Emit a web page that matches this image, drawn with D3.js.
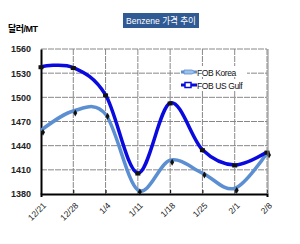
<!DOCTYPE html>
<html><head><meta charset="utf-8">
<script src="https://cdn.jsdelivr.net/npm/d3@7"></script>
<style>body{margin:0;background:#fff;}svg{display:block;}</style>
</head><body>
<svg id="c" width="300" height="244"></svg>
<script>
const categories = ["12/21","12/28","1/4","1/11","1/18","1/25","2/1","2/8"];
const fobKorea = [1459,1483,1479,1385,1422,1406,1387,1431];
const fobUSGulf = [1538,1537,1503,1406,1493,1435,1416,1432];
const yTicks = [1380,1410,1440,1470,1500,1530,1560];
const seriesNames = ["FOB Korea","FOB US Gulf"];
const title = "Benzene 가격 추이";
const unit = "달러/MT";

const svg = d3.select("#c");
const font = "Arial, 'Liberation Sans', 'Noto Sans CJK KR', sans-serif";
const L=41, R=267, T=49, B=194;
const x = d3.scalePoint().domain(categories).range([L,R]);
const y = d3.scaleLinear().domain([1380,1560]).range([B,T]);

// title
const tg = svg.append("g");
tg.append("rect").attr("x",123).attr("y",13).attr("width",76).attr("height",15).attr("fill","#2f5a94");
tg.append("text").attr("x",126).attr("y",24).attr("fill","#fff")
  .attr("font-family",font).attr("font-size",9.5).attr("textLength",70).attr("lengthAdjust","spacingAndGlyphs").text(title);
svg.append("text").attr("x",8).attr("y",32).attr("font-family",font).attr("font-size",9).attr("font-weight","bold")
  .attr("letter-spacing",-0.5).text(unit);

// grid
svg.append("g").selectAll("line").data(yTicks.slice(1)).join("line")
  .attr("x1",L).attr("x2",R).attr("y1",d=>y(d)).attr("y2",d=>y(d))
  .attr("stroke","#888").attr("stroke-width",1).attr("stroke-dasharray","6,1");
svg.append("g").selectAll("line").data(categories.slice(1)).join("line")
  .attr("x1",d=>x(d)).attr("x2",d=>x(d)).attr("y1",T).attr("y2",B)
  .attr("stroke","#888").attr("stroke-width",1).attr("stroke-dasharray","6,1");

// axes
const ya = svg.append("g").attr("transform",`translate(${L},0)`)
  .call(d3.axisLeft(y).tickValues(yTicks).tickFormat(d3.format("d")).tickSize(0).tickPadding(10));
ya.select(".domain").attr("stroke","#000").attr("stroke-width",2);
ya.selectAll("text").attr("font-family",font).attr("font-size",9).attr("font-weight","bold").attr("fill","#222");
const xa = svg.append("g").attr("transform",`translate(0,${B})`)
  .call(d3.axisBottom(x).tickSize(3).tickPadding(4));
xa.select(".domain").attr("stroke","#000").attr("stroke-width",2);
xa.selectAll(".tick line").attr("stroke","#000").attr("transform","translate(0,-4)");
xa.selectAll("text").attr("font-family",font).attr("font-size",8.5).attr("fill","#222")
  .attr("text-anchor","end").attr("transform","translate(3,10) rotate(-45)").attr("dx",0).attr("dy","0.35em").attr("y",0);

const line = d3.line().x((d,i)=>x(categories[i])).y(d=>y(d)).curve(d3.curveCardinal.tension(0));

// Korea
svg.append("path").datum(fobKorea).attr("d",line).attr("fill","none").attr("stroke","#5b8fd2").attr("stroke-width",3.5);
svg.append("g").selectAll("path").data(fobKorea).join("path")
  .attr("d",d3.symbol(d3.symbolDiamond,14))
  .attr("transform",(d,i)=>`translate(${x(categories[i])+2},${y(d)+2})`).attr("fill","#111");

// US Gulf
svg.append("path").datum(fobUSGulf).attr("d",line).attr("fill","none").attr("stroke","#0a0ade").attr("stroke-width",3.5);
svg.append("g").selectAll("rect").data(fobUSGulf).join("rect")
  .attr("x",(d,i)=>x(categories[i])-2.5).attr("y",d=>y(d)-1.5).attr("width",5).attr("height",4).attr("fill","#111");

// right border
svg.append("line").attr("x1",R+1).attr("x2",R+1).attr("y1",T).attr("y2",B).attr("stroke","#888").attr("stroke-width",1);

// legend
const lg = svg.append("g");
const lc = ["#5b8fd2","#0a0ade"];
seriesNames.forEach((n,i)=>{
  const yy = 72 + i*13;
  lg.append("rect").attr("x",181).attr("y",yy-6).attr("width",66).attr("height",11).attr("fill","#fff");
  lg.append("line").attr("x1",181).attr("x2",197).attr("y1",yy).attr("y2",yy).attr("stroke",lc[i]).attr("stroke-width",3);
  if(i===1) lg.append("rect").attr("x",185).attr("y",yy-2.5).attr("width",6).attr("height",5).attr("fill","#fff").attr("stroke",lc[i]).attr("stroke-width",1.5);
  else lg.append("path").attr("d","M184,"+(yy-2)+"L192,"+(yy-2)+"L195,"+yy+"L192,"+(yy+2)+"L184,"+(yy+2)+"Z").attr("fill","#9ec0ea").attr("stroke",lc[i]).attr("stroke-width",0.8);
  lg.append("text").attr("x",197).attr("y",yy+3.5).attr("font-family",font).attr("font-size",8.5).attr("letter-spacing",-0.4).attr("fill","#111").text(n);
});
</script>
</body></html>
